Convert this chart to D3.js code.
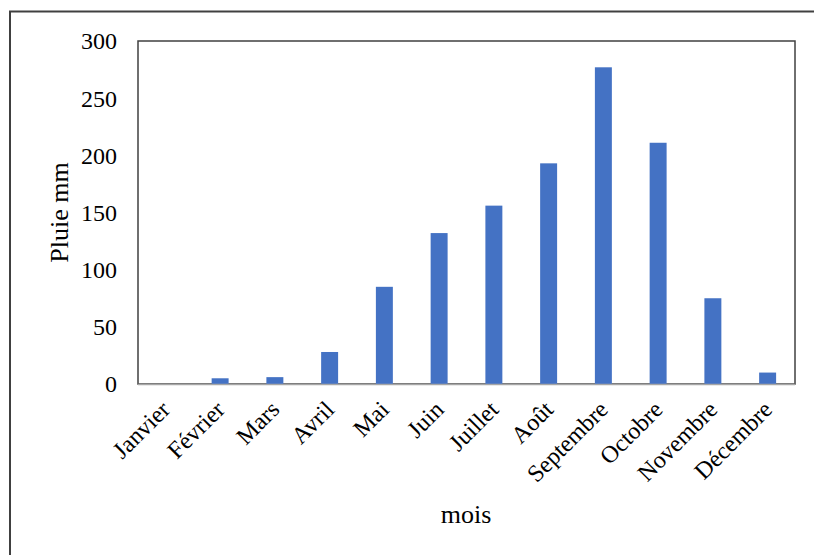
<!DOCTYPE html>
<html><head><meta charset="utf-8">
<script src="https://cdn.jsdelivr.net/npm/d3@7"></script>
<style>body{margin:0;background:#fff}svg{display:block}</style>
</head><body>
<svg id="c" width="814" height="555"></svg>
<script>
const months = ["Janvier","Février","Mars","Avril","Mai","Juin","Juillet","Août","Septembre","Octobre","Novembre","Décembre"];
const rain = [0, 5, 6, 28, 85, 132, 156, 193, 277, 211, 75, 10];
const yTicks = [0, 50, 100, 150, 200, 250, 300];
const yTitle = "Pluie mm";
const xTitle = "mois";

const svg = d3.select("#c");
const font = "'Liberation Serif','Times New Roman',serif";
const L = 138, R = 795, T = 41, B = 384;

// outer frame
svg.append("rect").attr("x", 10).attr("y", 11.5).attr("width", 820).attr("height", 560)
  .attr("fill", "#fff").attr("stroke", "#404040").attr("stroke-width", 2);

const x = d3.scaleBand().domain(months).range([L, R]).paddingInner(0.69).paddingOuter(0.345);
const y = d3.scaleLinear().domain([0, 300]).range([B, T]);

// plot frame
svg.append("rect").attr("x", L).attr("y", T).attr("width", R - L).attr("height", B - T)
  .attr("fill", "none").attr("stroke", "#404040").attr("stroke-width", 1.5);

svg.selectAll(".bar").data(rain).enter().append("rect")
  .attr("x", (d, i) => x(months[i]))
  .attr("width", x.bandwidth())
  .attr("y", d => y(d))
  .attr("height", d => B - y(d))
  .attr("fill", "#4472c4");

// bottom axis line
svg.append("line").attr("x1", L).attr("x2", R).attr("y1", B + 0.5).attr("y2", B + 0.5)
  .attr("stroke", "#a6a6a6").attr("stroke-width", 1.5);

// y axis
const ya = d3.axisLeft(y).tickValues(yTicks).tickSize(0).tickPadding(21);
const gy = svg.append("g").attr("transform", `translate(${L},0)`).call(ya);
gy.select(".domain").remove();
gy.selectAll("text").attr("font-family", font).attr("font-size", 24).attr("fill", "#000").attr("dy", "0.33em");

// x axis
const xa = d3.axisBottom(x).tickSize(0).tickPadding(0);
const gx = svg.append("g").attr("transform", `translate(0,${B})`).call(xa);
gx.select(".domain").remove();
gx.selectAll("text")
  .attr("font-family", font).attr("font-size", 24).attr("fill", "#000")
  .attr("text-anchor", "end").attr("dy", null).attr("y", 0)
  .attr("transform", "translate(6,27) rotate(-45)");

// titles
svg.append("text").attr("transform", `translate(68,${(T + B) / 2}) rotate(-90)`)
  .attr("text-anchor", "middle").attr("font-family", font).attr("font-size", 26).text(yTitle);
svg.append("text").attr("x", 466).attr("y", 523).attr("text-anchor", "middle")
  .attr("font-family", font).attr("font-size", 26).text(xTitle);
</script>
</body></html>
